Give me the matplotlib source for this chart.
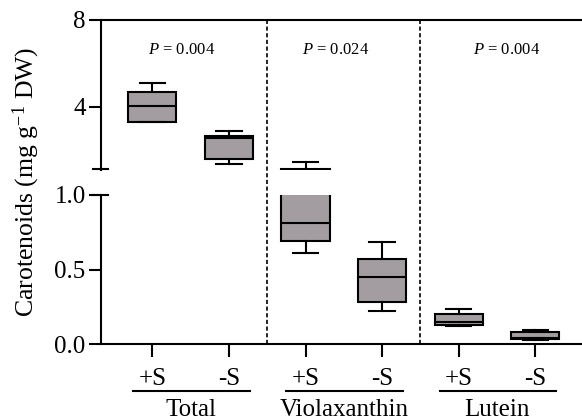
import matplotlib
matplotlib.use('Agg')
import matplotlib.pyplot as plt
from matplotlib.lines import Line2D
import matplotlib.transforms as mtransforms

plt.rcParams['font.family'] = ['Liberation Serif', 'DejaVu Serif']
plt.rcParams['mathtext.fontset'] = 'custom'
plt.rcParams['mathtext.rm'] = 'Liberation Serif'
plt.rcParams['mathtext.it'] = 'Liberation Serif:italic'

# ---------------- data ----------------
groups = ['Total', 'Violaxanthin', 'Lutein']
treatments = ['+S', '-S']
p_values = ['0.004', '0.024', '0.004']
# one entry per box: Total +S, Total -S, Viola +S, Viola -S, Lutein +S, Lutein -S
whislo = [3.28, 1.36, 0.61, 0.225, 0.124, 0.029]
q1 = [3.28, 1.59, 0.69, 0.281, 0.131, 0.035]
med = [4.05, 2.54, 0.809, 0.448, 0.147, 0.045]
q3 = [4.66, 2.66, 1.12, 0.570, 0.200, 0.080]
whishi = [5.08, 2.89, 1.43, 0.682, 0.236, 0.096]

top_ticks = [4, 8]
bot_ticks = [0.0, 0.5, 1.0]
bot_ticklabels = ['0.0', '0.5', '1.0']

# ---------------- layout ----------------
W, H = 582, 419
fig = plt.figure(figsize=(W / 100, H / 100), dpi=100)
L = 101 / W
ax_top = fig.add_axes([L, 1 - 170 / H, 1 - L, 150 / H])
ax_bot = fig.add_axes([L, 1 - 344.3 / H, 1 - L, 149.6 / H])

fill = '#a39ca1'
lw = 1.5
fs = 18
positions = list(range(1, 7))
stats = []
for i in range(6):
    stats.append(dict(whislo=whislo[i], q1=q1[i], med=med[i], q3=q3[i],
                      whishi=whishi[i], fliers=[]))

for ax in (ax_top, ax_bot):
    ax.bxp(stats, positions=positions, widths=0.63, capwidths=0.33,
           patch_artist=True, showfliers=False,
           boxprops=dict(facecolor=fill, edgecolor='black', linewidth=lw),
           medianprops=dict(color='black', linewidth=lw),
           whiskerprops=dict(color='black', linewidth=lw),
           capprops=dict(color='black', linewidth=lw))
    ax.set_xlim(0.33, 6.61)
    ax.patch.set_visible(False)
    ax.spines['right'].set_visible(False)
    for s in ax.spines.values():
        s.set_linewidth(lw)
    ax.tick_params(axis='y', direction='out', length=9, width=lw,
                   labelsize=fs, pad=2)

# top segment
ax_top.set_ylim(1.08, 8)
ax_top.set_yticks(top_ticks)
ax_top.set_yticklabels([str(t) for t in top_ticks])
ax_top.spines['bottom'].set_visible(False)
ax_top.tick_params(axis='x', bottom=False, labelbottom=False)

# bottom segment
ax_bot.set_ylim(0, 1.0)
ax_bot.set_yticks(bot_ticks)
ax_bot.set_yticklabels(bot_ticklabels)
ax_bot.spines['top'].set_visible(False)
ax_bot.set_xticks(positions)
ax_bot.set_xticklabels(treatments * 3)
ax_bot.tick_params(axis='x', direction='out', length=9, width=lw,
                   labelsize=fs, pad=8)

# break markers on y-axis
for ypx in (169.5, 194.7):
    fig.add_artist(Line2D([93 / W, 108 / W], [1 - ypx / H] * 2,
                          color='black', linewidth=lw))

# dashed separators through both segments
for xsep in (2.5, 4.5):
    ax_bot.axvline(xsep, ymin=0, ymax=(344.3 - 20) / 149.6, clip_on=False,
                   color='black', linewidth=1.2, linestyle=(0, (2.5, 1.5)))

# group underlines and names
trans = mtransforms.blended_transform_factory(ax_bot.transData, ax_bot.transAxes)
y_line = (344.3 - 391) / 149.6
y_name = (344.3 - 410) / 149.6
for g, name in enumerate(groups):
    a, b = 2 * g + 1, 2 * g + 2
    ax_bot.add_line(Line2D([a - 0.25, b + 0.27], [y_line, y_line], transform=trans,
                           color='black', linewidth=lw, clip_on=False))
    ax_bot.text((a + b) / 2, y_name, name, transform=trans, ha='center',
                va='center', fontsize=fs)

# P values
p_x = [1.384, 3.395, 5.62]
for g in range(3):
    ax_top.text(p_x[g], 6.62, r'$\mathit{P}$ = ' + p_values[g], ha='center',
                va='center', fontsize=12)

# y label
fig.text(26 / W, 1 - 182 / H, r'Carotenoids (mg g$^{-1}$ DW)', rotation=90,
         ha='center', va='center', fontsize=18.5)

fig.savefig('out.png', dpi=100)
